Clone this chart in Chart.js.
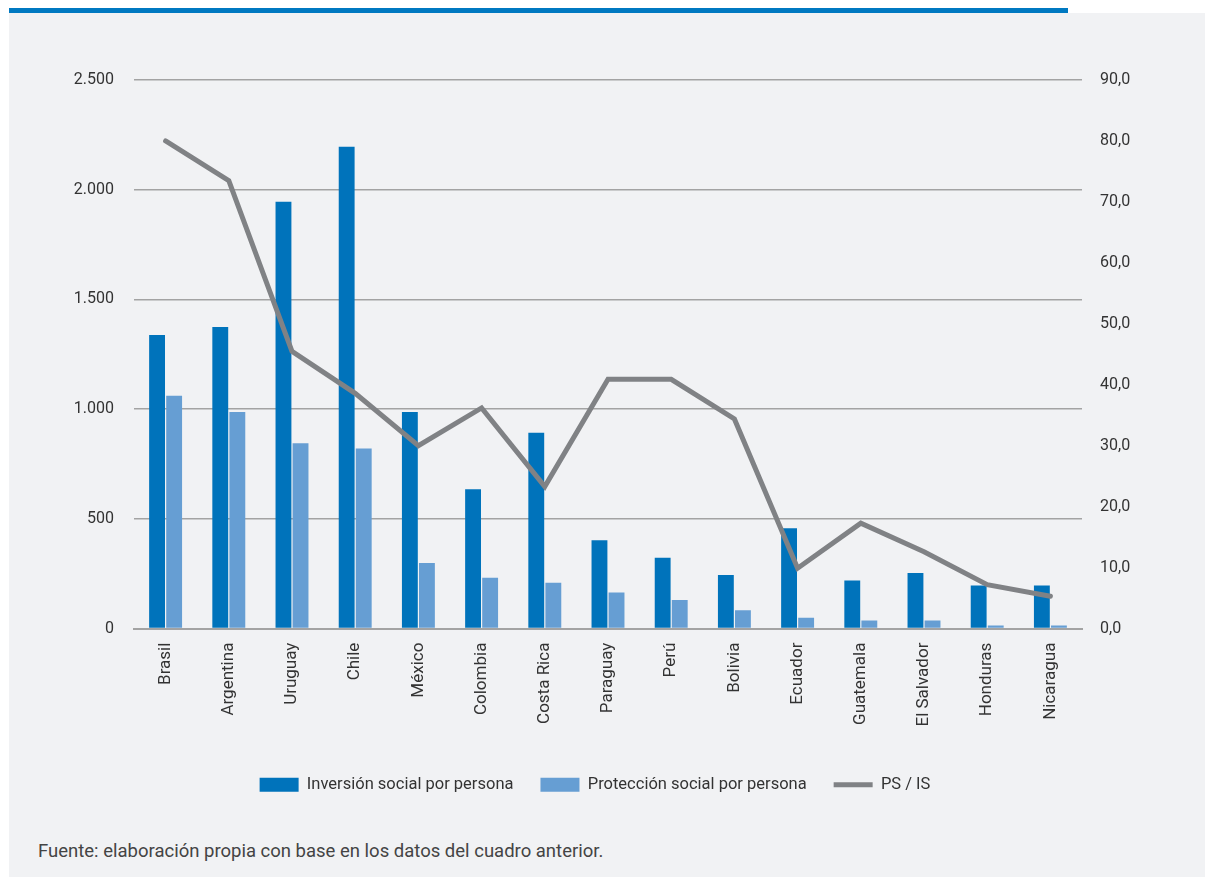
<!DOCTYPE html>
<html>
<head>
<meta charset="utf-8">
<script src="https://cdn.jsdelivr.net/npm/chart.js@4"></script>
<style>
  html, body { margin: 0; padding: 0; background: #fff; }
  body { width: 1205px; height: 877px; position: relative; overflow: hidden; font-family: Roboto, sans-serif; }
  .topbar { position: absolute; left: 9px; top: 8px; width: 1059px; height: 5px; background: #0079c1; }
  .panel { position: absolute; left: 9px; top: 13px; right: 0; bottom: 0; background: #f1f2f4; }
  .wrap { position: absolute; left: 0; top: 0; width: 1205px; height: 820px; }
  .source { position: absolute; left: 38px; top: 840px; font-size: 18.5px; color: #444; }
</style>
</head>
<body>
<div class="topbar"></div>
<div class="panel"></div>
<div class="wrap"><canvas id="chart"></canvas></div>
<div class="source">Fuente: elaboración propia con base en los datos del cuadro anterior.</div>
<script>
// ── Data ──
const countries = ['Brasil', 'Argentina', 'Uruguay', 'Chile', 'México', 'Colombia', 'Costa Rica',
  'Paraguay', 'Perú', 'Bolivia', 'Ecuador', 'Guatemala', 'El Salvador', 'Honduras', 'Nicaragua'];
const inversionSocial  = [1338, 1375, 1945, 2196, 987, 635, 892, 403, 323, 244, 457, 219, 253, 196, 196];
const proteccionSocial = [1061, 987, 845, 821, 299, 232, 209, 164, 130, 84, 49, 37, 37, 14, 14];
const psIs             = [80.0, 73.5, 45.5, 38.6, 30.0, 36.2, 23.3, 40.9, 40.9, 34.4, 9.9, 17.3, 12.6, 7.2, 5.3];

const textColor = '#333';
const gridColor = '#a3a3a3';
const font = { family: 'Roboto', size: 16 };

const fmtThousands = (v) => String(v).replace(/\B(?=(\d{3})+(?!\d))/g, '.');
const fmtDecimal = (v) => Number(v).toFixed(1).replace('.', ',');

new Chart(document.getElementById('chart'), {
  type: 'bar',
  data: {
    labels: countries,
    datasets: [
      {
        label: 'Inversión social por persona',
        data: inversionSocial,
        backgroundColor: '#0073bb',
        borderWidth: 0,
        pointStyle: 'rect',
        yAxisID: 'y',
        order: 1,
      },
      {
        label: 'Protección social por persona',
        data: proteccionSocial,
        backgroundColor: '#669ed3',
        borderWidth: 0,
        pointStyle: 'rect',
        yAxisID: 'y',
        order: 1,
      },
      {
        type: 'line',
        label: 'PS / IS',
        data: psIs,
        borderColor: '#808285',
        backgroundColor: '#808285',
        borderWidth: 5,
        borderCapStyle: 'round',
        pointRadius: 0,
        pointStyle: 'line',
        tension: 0,
        yAxisID: 'y1',
        order: 0,
      },
    ],
  },
  options: {
    responsive: true,
    maintainAspectRatio: false,
    animation: false,
    layout: { padding: { left: 48, right: 63, top: 80, bottom: 17 } },
    datasets: { bar: { categoryPercentage: 0.54, barPercentage: 0.93 } },
    plugins: {
      tooltip: { enabled: false },
      legend: {
        position: 'bottom',
        labels: {
          color: textColor,
          font: { family: 'Roboto', size: 16.5 },
          usePointStyle: true,
          pointStyleWidth: 39,
          boxHeight: 14,
          padding: 27,
          sort: (a, b) => a.datasetIndex - b.datasetIndex,
        },
      },
    },
    scales: {
      x: {
        afterFit: (s) => { s.height += 9; },
        grid: { display: false, drawTicks: false },
        border: { color: gridColor, width: 2 },
        ticks: { color: textColor, font: { family: 'Roboto', size: 17 }, minRotation: 90, maxRotation: 90, padding: 14, autoSkip: false },
      },
      y: {
        position: 'left',
        min: 0, max: 2500,
        afterFit: (s) => { s.width = 86; },
        grid: { color: gridColor, lineWidth: 1.5, drawTicks: false },
        border: { display: false },
        ticks: { stepSize: 500, color: textColor, font, padding: 20, callback: (v) => fmtThousands(v) },
      },
      y1: {
        position: 'right',
        min: 0, max: 90,
        afterFit: (s) => { s.width = 60; },
        grid: { display: false, drawTicks: false },
        border: { display: false },
        ticks: { stepSize: 10, color: textColor, font, padding: 18, callback: (v) => fmtDecimal(v) },
      },
    },
  },
});
</script>
</body>
</html>
